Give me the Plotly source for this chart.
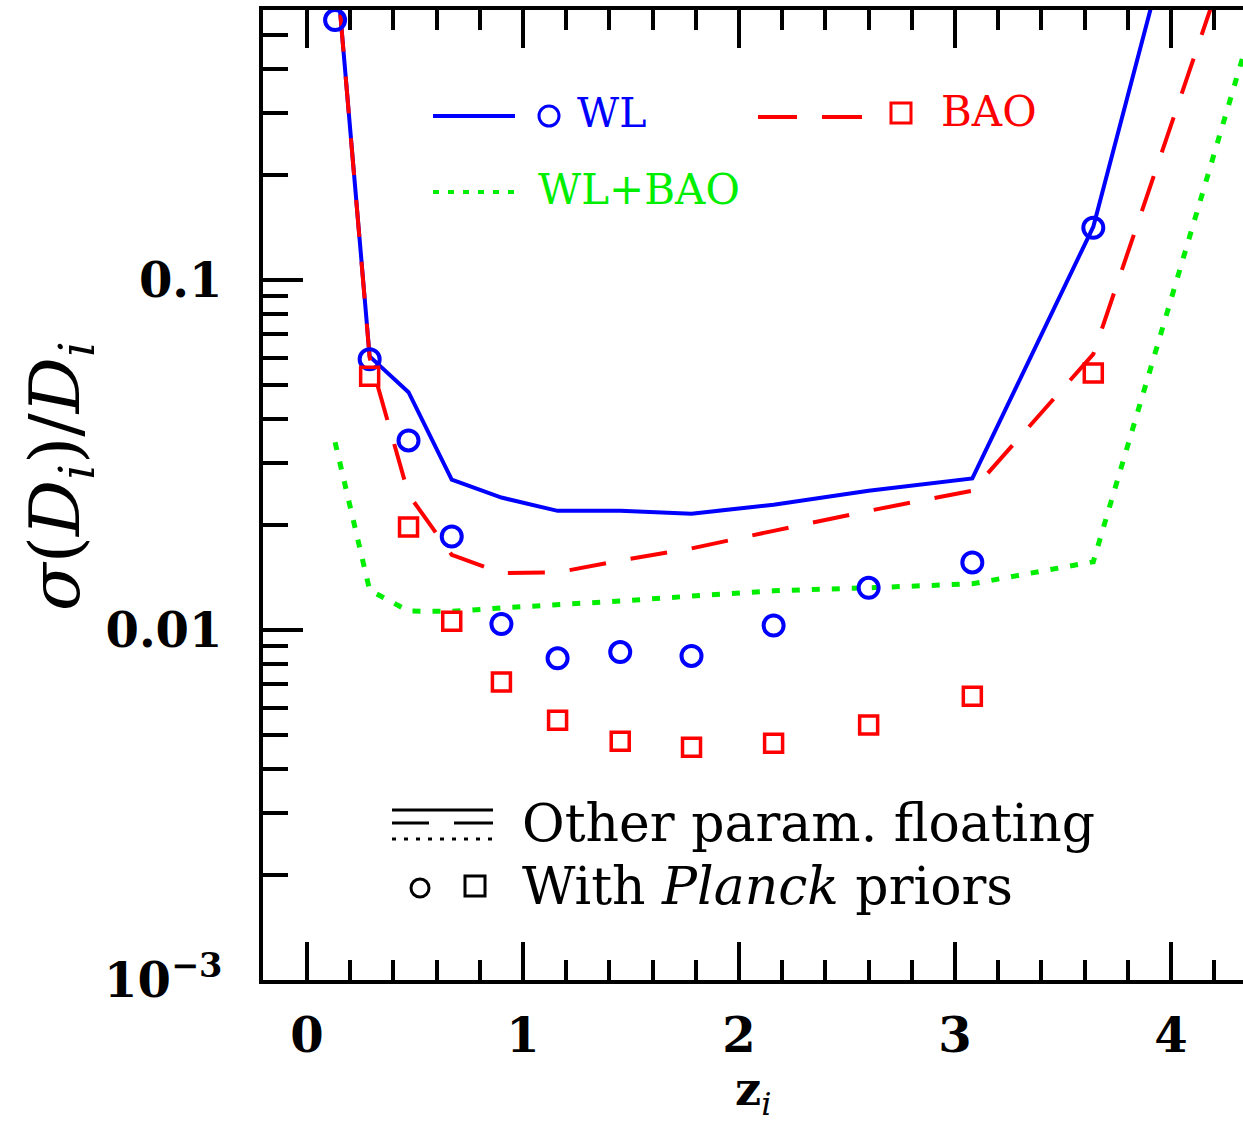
import plotly.graph_objects as go

# ---------------- data ----------------
z_bins = [0.13, 0.29, 0.47, 0.67, 0.90, 1.16, 1.45, 1.78, 2.16, 2.60, 3.08, 3.64]
z_lines = z_bins + [4.40]

wl_planck = [0.553, 0.0594, 0.0348, 0.0185, 0.0104, 0.0083, 0.00865, 0.00843,
             0.0103, 0.0132, 0.0156, 0.141]
bao_planck = [None, 0.0531, 0.0197, 0.0106, 0.0071, 0.00552, 0.00481, 0.00462,
              0.00475, 0.00535, 0.00647, 0.0542]

wl_float = [0.86, 0.0605, 0.0478, 0.0269, 0.0239, 0.0219, 0.0219, 0.0215,
            0.0228, 0.0250, 0.0271, 0.142, 8.6]
bao_float = [0.86, 0.060, 0.0244, 0.0164, 0.01455, 0.0146, 0.0158, 0.0171,
             0.0192, 0.0219, 0.0250, 0.0614, 1.48]
wlbao_float = [0.0344, 0.0130, 0.01133, 0.0113, 0.01156, 0.0118, 0.0121, 0.0125,
               0.01294, 0.0132, 0.01355, 0.01567, 0.60]

x_ticks = [0, 1, 2, 3, 4]
y_ticks = [0.001, 0.01, 0.1]
y_ticktext = ["10<sup>\u22123</sup>", "0.01", "0.1"]

BLUE = "#0000ff"
RED = "#ff0000"
GREEN = "#00ee00"

# ---------------- geometry helpers (pixels -> paper) ----------------
W, H = 1243, 1126
L, R, T, B = 263, 0, 10, 146
PW, PH = W - L - R, H - T - B


def px(x):
    return (x - L) / PW


def py(y):
    return (H - B - y) / PH


fig = go.Figure()

fig.add_trace(go.Scatter(x=z_lines, y=wl_float, mode="lines",
                         line=dict(color=BLUE, width=4), name="WL"))
fig.add_trace(go.Scatter(x=z_lines, y=bao_float, mode="lines",
                         line=dict(color=RED, width=4, dash="37px,25px"), name="BAO"))
fig.add_trace(go.Scatter(x=z_lines, y=wlbao_float, mode="lines",
                         line=dict(color=GREEN, width=5, dash="8px,12px"), name="WL+BAO"))
fig.add_trace(go.Scatter(x=z_bins, y=wl_planck, mode="markers",
                         marker=dict(symbol="circle-open", size=20, color=BLUE,
                                     line=dict(width=4, color=BLUE)), name="WL Planck"))
fig.add_trace(go.Scatter(x=z_bins, y=bao_planck, mode="markers",
                         marker=dict(symbol="square-open", size=18, color=RED,
                                     line=dict(width=3.5, color=RED)), name="BAO Planck"))

FONT = "DejaVu Serif"

minor_y = [k * 10.0 ** e for e in (-3, -2, -1) for k in range(2, 10)]

fig.update_layout(
    width=W, height=H,
    margin=dict(l=L, r=R, t=T, b=B, pad=0),
    plot_bgcolor="white", paper_bgcolor="white",
    showlegend=False,
    xaxis=dict(
        range=[-0.2037, 4.333], tickmode="array", tickvals=x_ticks,
        ticks="inside", ticklen=38, tickwidth=4, tickcolor="black",
        showline=True, linewidth=4, linecolor="black", mirror="ticks",
        showgrid=False, zeroline=False,
        minor=dict(ticks="inside", ticklen=20, tickwidth=4, tickcolor="black",
                   dtick=0.2, tick0=0, showgrid=False),
        tickfont=dict(family=FONT, size=48, color="black", weight="bold"),
        ticklabelstandoff=10,
    ),
    yaxis=dict(
        type="log", range=[-3, -0.2286], tickmode="array",
        tickvals=y_ticks, ticktext=y_ticktext,
        ticks="inside", ticklen=40, tickwidth=4, tickcolor="black",
        showline=True, linewidth=4, linecolor="black", mirror=False,
        showgrid=False, zeroline=False,
        minor=dict(ticks="inside", ticklen=25, tickwidth=4, tickcolor="black",
                   tickvals=minor_y, showgrid=False),
        tickfont=dict(family=FONT, size=48, color="black", weight="bold"),
        ticklabelstandoff=27,
    ),
    yaxis2=dict(
        type="log", range=[-3, -0.2286], overlaying="y", side="right", anchor="x",
        tickmode="array", tickvals=y_ticks, showticklabels=False,
        ticks="inside", ticklen=26, tickwidth=4, tickcolor="black",
        showline=False, showgrid=False, zeroline=False,
        minor=dict(ticks="inside", ticklen=8, tickwidth=4, tickcolor="black",
                   tickvals=minor_y, showgrid=False),
    ),
)

shapes = []
ann = []


def hline(x0, x1, y, color, width=4, dash="solid"):
    shapes.append(dict(type="line", xref="paper", yref="paper",
                       x0=px(x0), x1=px(x1), y0=py(y), y1=py(y),
                       line=dict(color=color, width=width, dash=dash)))


def circ(cx, cy, r, color, width=3):
    shapes.append(dict(type="circle", xref="paper", yref="paper",
                       x0=px(cx - r), x1=px(cx + r), y0=py(cy + r), y1=py(cy - r),
                       line=dict(color=color, width=width)))


def sq(cx, cy, h, color, width=3):
    shapes.append(dict(type="rect", xref="paper", yref="paper",
                       x0=px(cx - h), x1=px(cx + h), y0=py(cy + h), y1=py(cy - h),
                       line=dict(color=color, width=width)))


def text(x, y, s, color, size, anchor="left", angle=0, weight="normal"):
    ann.append(dict(xref="paper", yref="paper", x=px(x), y=py(y), text=s,
                    showarrow=False, xanchor=anchor, yanchor="middle",
                    textangle=angle,
                    font=dict(family=FONT, size=size, color=color, weight=weight)))


# top legend
hline(433, 515, 116, BLUE, 4)
circ(549, 116, 10, BLUE, 3)
text(575, 113, "WL", BLUE, 41)
hline(758, 797, 117, RED, 4)
hline(822, 862, 117, RED, 4)
sq(901, 113, 10, RED, 3)
text(939, 112, "BAO", RED, 42)
hline(433, 515, 192, GREEN, 4, "6px,9px")
text(536, 189, "WL+BAO", GREEN, 42)

# bottom legend (black)
hline(392, 493, 810, "black", 3)
hline(392, 429, 823, "black", 3)
hline(454, 493, 823, "black", 3)
hline(392, 493, 839, "black", 3, "4px,8px")
text(520, 823, "Other param. floating", "black", 52)
circ(420, 888, 9, "black", 3)
sq(475, 886, 10, "black", 3)
text(520, 886, "With <i>Planck</i> priors", "black", 52)

# axis titles
text(753, 1092, "<b>z</b><sub><i>i</i></sub>", "black", 46, anchor="center")
text(60, 476, "<i>σ</i>(<i>D</i><sub><i>i</i></sub>)/<i>D</i><sub><i>i</i></sub>",
     "black", 70, anchor="center", angle=-90)

fig.update_layout(shapes=shapes, annotations=ann)

fig.write_html("out.html",
               config={"displayModeBar": False},
               post_script="document.body.style.margin='0px';"
                           "document.body.style.overflow='hidden';")
